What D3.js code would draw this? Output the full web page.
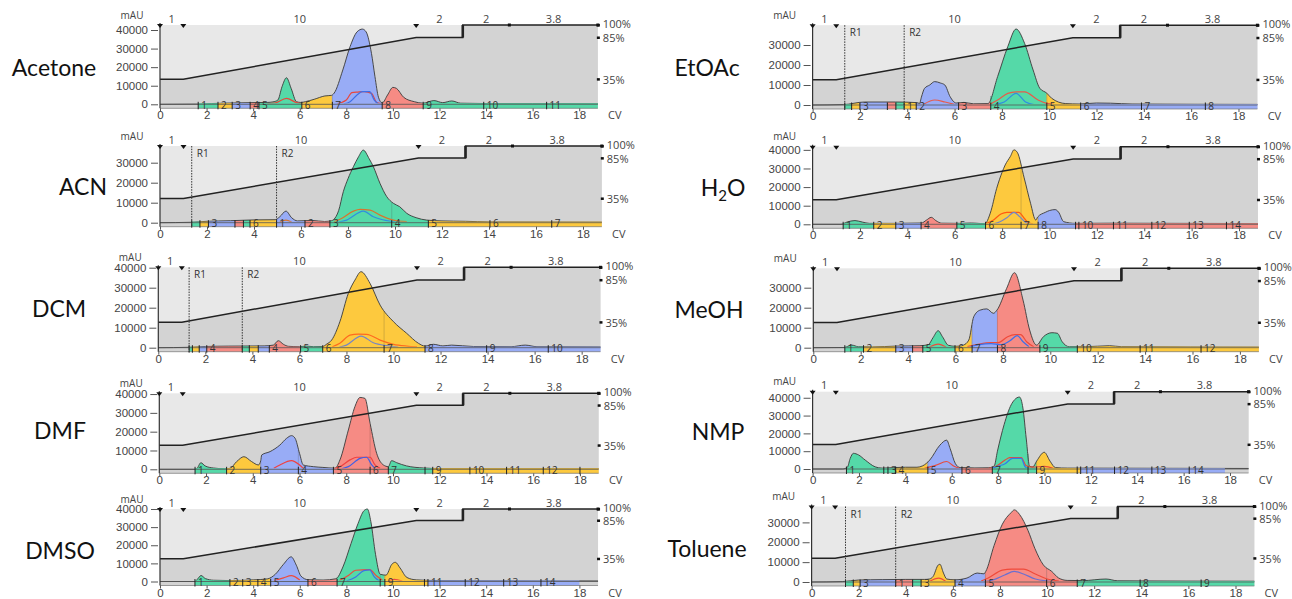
<!DOCTYPE html>
<html lang="en">
<head>
<meta charset="UTF-8">
<title>Flash chromatograms by solvent</title>
<script src="https://d3js.org/d3.v7.min.js"></script>
<style>
  body { margin: 0; background: #fff; }
  svg { display: block; font-family: 'Open Sans', sans-serif; }
  .tick text { font-size: 11.5px; fill: #444; }
  .tick line { stroke: #555; }
  .small { font-size: 11px; fill: #444; }
  .frac { font-size: 10px; fill: #333; }
  .name { font-family: Lato, 'Open Sans', sans-serif; font-size: 23px; fill: #111; }
</style>
</head>
<body>
<svg width="1292" height="599"></svg>
<script>
// ---- shared method data ----
const gradientSteps = [[0, 35], [1, 35], [11, 85], [13, 85], [13, 100], [18.8, 100]];
const segmentLengths = [1, 10, 2, 2, 3.8];
const segmentLabels = ["1", "10", "2", "2", "3.8"];
const percentLabels = [100, 85, 35];
const cvTicks = [0, 2, 4, 6, 8, 10, 12, 14, 16, 18];
const mauTicks = [0, 10000, 20000, 30000, 40000];

const solvents = ["Acetone", "ACN", "DCM", "DMF", "DMSO", "EtOAc", "H₂O", "MeOH", "NMP", "Toluene"];
const yTop = [42700, 38350, 40200, 40400, 40000, 39900, 41700, 39700, 43400, 38000];

// ---- traces: [CV, mAU] ----
const acetoneTrace = [[0,0],[1.6,100],[2.2,400],[3,700],[3.9,900],[4.6,1000],[4.85,1300],[5.06,2300],[5.24,9500],[5.43,14300],[5.63,8600],[5.86,1400],[6.05,1000],[6.24,1400],[6.62,2700],[7.08,4500],[7.36,4800],[7.47,5900],[7.85,18500],[8.16,31000],[8.46,39000],[8.69,40500],[8.85,39000],[9.08,27400],[9.23,14900],[9.38,3800],[9.54,700],[9.77,5000],[10.0,9100],[10.15,8600],[10.46,3800],[10.92,1400],[11.3,600],[11.76,2000],[12.14,900],[12.53,1800],[12.91,600],[14,400],[16,400],[18.8,300]];
const acetoneRed = [[4.6,300],[4.93,600],[5.43,3200],[5.86,900],[6.1,300],null,[7.6,300],[8.0,2300],[8.24,6300],[8.5,6600],[8.77,6800],[9.08,5900],[9.31,900],[9.5,300]];
const acetoneBlue = [[7.9,200],[8.16,1400],[8.46,5000],[8.69,6800],[9.0,6800],[9.2,2300],[9.38,200]];
const acetoneFractions = [[1.64,2.49,"g","1"],[2.49,3.1,"y","2"],[3.1,3.87,"b","3"],[3.87,4.25,"r","4"],[4.25,6.09,"g","5"],[6.09,7.4,"y","6"],[7.4,9.54,"b","7"],[9.54,11.3,"r","8"],[11.3,13.9,"g","9"],[13.9,16.6,"g","10"],[16.6,18.8,"g","11"]];

const acnTrace = [[0,0],[1.3,200],[2,700],[3,1000],[4,1400],[4.9,1500],[5.1,3000],[5.36,5800],[5.6,2500],[5.85,900],[6.5,1100],[7.0,600],[7.3,1000],[7.6,6000],[7.8,15500],[8.0,22000],[8.23,28000],[8.45,33000],[8.65,36300],[8.9,32000],[9.08,28000],[9.36,19700],[9.65,13000],[9.93,9700],[10.2,8000],[10.5,4700],[10.9,2500],[11.35,1300],[12,900],[13,700],[14,400],[18.8,300]];
const acnRed = [[7.4,500],[7.66,1700],[8.23,5800],[8.51,6700],[8.94,6300],[9.36,3800],[9.93,1300],[10.5,500],null,[5.1,300],[5.36,1300],[5.6,300]];
const acnBlue = [[7.6,300],[7.94,1300],[8.65,5800],[9.08,3000],[9.65,1000],[10.07,200]];
const acnFractions = [[1.35,1.7,"g",""],[1.7,2.06,"y",""],[2.06,3.19,"b","3"],[3.19,3.55,"r",""],[3.55,3.83,"g",""],[3.83,4.96,"y","6"],[4.96,6.17,"b","1"],[6.17,7.23,"r","2"],[7.23,9.86,"g","3"],[9.86,11.42,"g","4"],[11.42,14.04,"y","5"],[14.04,16.67,"y","6"],[16.67,18.8,"y","7"]];
const acnRacks = [1.35, 4.96];

const dcmTrace = [[0,0],[1.3,200],[2,600],[3,800],[4.5,900],[4.89,1300],[5.1,3500],[5.32,1700],[5.53,700],[6.0,500],[6.3,800],[6.6,500],[6.99,600],[7.16,1800],[7.37,3800],[7.72,13000],[8.08,27200],[8.36,33800],[8.62,38000],[9.0,32200],[9.43,21300],[10.0,13000],[10.56,7200],[11.06,2200],[11.34,800],[11.7,1700],[12.1,900],[12.47,1300],[13.4,600],[15.0,500],[15.6,1300],[16.1,500],[18.8,400]];
const dcmRed = [[7.4,500],[7.72,2200],[8.15,6300],[8.5,6800],[8.86,6700],[9.43,3800],[10.0,1700],[10.56,800],[11,400]];
const dcmBlue = [[7.7,300],[8.0,1300],[8.62,5800],[9.14,2500],[9.71,1000],[10.2,300]];
const dcmFractions = [[1.31,1.45,"g",""],[1.45,1.74,"y",""],[1.74,2.06,"b",""],[2.06,3.57,"r","4"],[3.57,3.87,"g",""],[3.87,4.25,"y",""],[4.25,4.72,"b",""],[4.72,6.05,"r","4"],[6.05,6.99,"g","5"],[6.99,9.6,"y","6"],[9.6,11.34,"y","7"],[11.34,13.96,"b","8"],[13.96,16.58,"b","9"],[16.58,18.8,"b","10"]];
const dcmRacks = [1.31, 3.57];

const dmfTrace = [[0,0],[1.5,0],[1.6,300],[1.78,3500],[1.96,1800],[2.31,700],[2.8,300],[3.02,500],[3.31,4100],[3.62,6700],[3.95,4100],[4.24,2300],[4.34,4500],[4.38,7600],[4.74,9400],[5.16,12900],[5.45,16500],[5.66,17900],[5.81,16500],[6.0,8500],[6.16,2300],[6.59,1400],[7.0,1000],[7.52,600],[7.73,5000],[8.09,20900],[8.37,33300],[8.59,38200],[8.8,37700],[9.02,24400],[9.3,8500],[9.59,2300],[9.8,1400],[9.94,4600],[10.16,3500],[10.58,1800],[11.3,700],[12,400],[18.8,300]];
const dmfRed = [[4.9,500],[5.16,2300],[5.66,4600],[6.0,2300],[6.16,500],null,[7.5,400],[7.73,1400],[8.16,5000],[8.45,6400],[9.02,6400],[9.23,2300],[9.45,500]];
const dmfBlue = [[7.8,300],[8.09,1400],[8.59,5800],[8.87,6400],[9.09,2300],[9.23,500]];
const dmfFractions = [[1.53,2.88,"g","1"],[2.88,4.34,"y","2"],[4.34,5.95,"b","3"],[5.95,7.45,"b","4"],[7.45,9.02,"r","5"],[9.02,9.8,"r","6"],[9.8,11.37,"g","7"],[11.37,11.7,"g",""],[11.7,13.29,"y","9"],[13.29,14.86,"y","10"],[14.86,16.43,"y","11"],[16.43,18.0,"y","12"],[18.0,18.8,"y",""]];

const dmsoTrace = [[0,0],[1.5,0],[1.62,1500],[1.76,3300],[1.95,1600],[2.3,700],[3,500],[4,900],[4.6,1400],[4.95,4000],[5.3,9500],[5.63,13600],[5.85,9000],[6.05,3000],[6.35,1000],[7.0,800],[7.55,1500],[7.85,8000],[8.2,21000],[8.5,32000],[8.75,39000],[8.9,40000],[9.05,33000],[9.25,15000],[9.45,4000],[9.7,3500],[9.95,9500],[10.1,10600],[10.3,7500],[10.6,2200],[11,900],[12,500],[18.8,300]];
const dmsoRed = [[4.9,500],[5.3,2000],[5.63,3200],[6.0,800],null,[7.7,600],[8.1,3500],[8.4,6200],[9.0,6500],[9.3,3000],[9.55,600],null,[9.8,300],[10.05,1200],[10.4,300]];
const dmsoBlue = [[8.0,300],[8.4,2500],[8.75,6000],[9.0,6400],[9.2,2500],[9.4,400]];
const dmsoFractions = [[1.5,3.0,"g","1"],[3.0,3.55,"y","2"],[3.55,4.2,"y","3"],[4.2,4.75,"y","4"],[4.75,6.35,"b","5"],[6.35,7.6,"r","6"],[7.6,9.45,"g","7"],[9.45,9.65,"g",""],[9.65,11.35,"y","9"],[11.35,11.5,"y",""],[11.5,13.1,"b","11"],[13.1,14.75,"b","12"],[14.75,16.35,"b","13"],[16.35,18.0,"b","14"]];

const etoacTrace = [[0,0],[1.3,200],[2.2,1500],[3.5,1500],[4.4,1200],[4.52,800],[4.6,4000],[4.73,8300],[4.95,10000],[5.16,11700],[5.4,11000],[5.59,10000],[5.81,4200],[6.07,1000],[6.4,1300],[6.8,600],[7.41,700],[7.82,14200],[8.25,29200],[8.6,38000],[8.96,30800],[9.32,17500],[9.6,8400],[9.9,5900],[10.1,3400],[10.7,700],[11.26,500],[12,1000],[12.6,900],[13.5,500],[18.8,300]];
const etoacRed = [[4.7,400],[5.16,2500],[5.6,1500],[6.0,300],null,[7.5,400],[7.82,2500],[8.25,5800],[8.6,6600],[8.96,6600],[9.53,2500],[9.9,800],[10.2,300]];
const etoacBlue = [[7.7,200],[8.1,1500],[8.6,5800],[9.0,1500],[9.4,100]];
const etoacFractions = [[1.36,1.65,"g",""],[1.65,2.0,"y",""],[2.0,3.16,"b","3"],[3.16,3.52,"r",""],[3.52,3.87,"g",""],[3.87,4.38,"y","1"],[4.38,6.17,"b","2"],[6.17,7.53,"r","3"],[7.53,9.9,"g","4"],[9.9,11.33,"y","5"],[11.33,13.9,"b","6"],[13.9,16.6,"b","7"],[16.6,18.8,"b","8"]];
const etoacRacks = [1.36, 3.87];

const h2oTrace = [[0,0],[1.2,0],[1.45,1200],[1.79,2000],[2.1,1200],[2.4,500],[3.5,500],[4.6,700],[4.8,2200],[5.01,3750],[5.2,2000],[5.45,600],[6.2,500],[6.7,700],[7.1,400],[7.27,300],[7.5,6000],[7.77,19300],[8.0,28000],[8.13,31900],[8.35,36500],[8.5,40000],[8.64,38700],[8.93,25000],[9.2,11300],[9.42,2300],[9.5,3900],[9.82,6400],[10.0,7400],[10.24,7900],[10.38,6600],[10.6,1400],[11.1,500],[12.6,600],[18.8,400]];
const h2oRed = [[7.3,300],[7.6,2000],[7.95,5500],[8.2,6400],[8.7,6400],[8.95,3000],[9.1,1000],[9.3,300]];
const h2oBlue = [[7.5,200],[7.8,800],[8.2,3500],[8.5,6400],[8.75,4000],[9.0,1000],[9.2,200]];
const h2oFractions = [[1.29,2.58,"g","1"],[2.58,3.51,"y","2"],[3.51,4.58,"b","3"],[4.58,6.09,"r","4"],[6.09,7.3,"g","5"],[7.3,8.8,"y","6"],[8.8,9.52,"y","7"],[9.52,11.1,"b","8"],[11.1,11.24,"r",""],[11.24,12.7,"r","10"],[12.7,14.32,"r","11"],[14.32,15.9,"r","12"],[15.9,17.47,"r","13"],[17.47,18.8,"r","14"]];

const meohTrace = [[0,0],[1.3,100],[1.62,1300],[1.9,500],[2.5,400],[3.5,800],[4.5,1000],[4.85,1500],[5.05,5000],[5.27,8500],[5.45,5500],[5.7,1200],[6.0,700],[6.2,800],[6.34,1300],[6.56,3800],[6.77,15500],[7.04,18800],[7.32,19400],[7.6,17200],[7.75,18800],[8.16,29700],[8.49,37500],[8.85,23800],[9.13,8800],[9.42,1300],[9.71,5500],[10.07,7500],[10.3,7200],[10.5,3000],[10.8,500],[11.5,500],[12.5,1000],[13,500],[18.8,300]];
const meohRed = [[4.9,300],[5.27,1800],[5.6,300],null,[6.5,500],[6.9,1500],[7.5,2500],[7.8,2500],[8.2,5500],[8.5,6500],[8.75,6500],[9.0,3000],[9.3,500]];
const meohBlue = [[6.6,300],[7.0,1500],[7.5,2000],[7.9,1500],[8.3,3500],[8.6,6000],[8.85,3000],[9.1,500]];
const meohFractions = [[1.33,2.12,"g","1"],[2.12,3.48,"y","2"],[3.48,4.19,"b","3"],[4.19,4.62,"r",""],[4.62,5.98,"g","5"],[5.98,6.7,"y","6"],[6.7,7.77,"b","7"],[7.77,9.56,"r","8"],[9.56,11.14,"g","9"],[11.14,13.79,"y","10"],[13.79,16.36,"y","11"],[16.36,18.8,"y","12"]];

const nmpTrace = [[0,0],[1.3,0],[1.5,1000],[1.62,5900],[1.76,8800],[1.98,7900],[2.27,5000],[2.7,1200],[3.0,500],[3.5,800],[4.0,1000],[4.5,1000],[4.75,1800],[5.05,5000],[5.49,13400],[5.78,16200],[5.93,11500],[6.15,3200],[6.36,800],[7.0,600],[7.6,700],[7.83,1700],[7.97,10000],[8.26,25000],[8.56,36000],[8.71,38900],[8.92,40400],[9.07,34200],[9.21,17400],[9.36,1500],[9.5,1200],[9.66,4400],[9.99,9400],[10.24,4400],[10.47,800],[11,500],[18.8,300]];
const nmpRed = [[4.8,300],[5.3,2000],[5.78,4200],[6.1,1500],[6.35,300],null,[7.6,300],[7.83,1000],[8.3,5000],[8.5,6400],[9.0,6400],[9.2,2000],[9.5,1000],[9.99,1500],[10.4,300]];
const nmpBlue = [[7.7,200],[7.97,1500],[8.3,3000],[8.62,6000],[9.0,6000],[9.15,1500],[9.3,100]];
const nmpFractions = [[1.46,3.07,"g","1"],[3.07,3.25,"g",""],[3.25,3.58,"g","3"],[3.58,4.97,"y","4"],[4.97,6.44,"b","5"],[6.44,7.75,"r","6"],[7.75,9.29,"g","7"],[9.29,9.66,"g",""],[9.66,11.41,"y","9"],[11.41,11.56,"y",""],[11.56,13.02,"b","11"],[13.02,14.63,"b","12"],[14.63,16.24,"b","13"],[16.24,17.78,"b","14"]];

const tolueneTrace = [[0,0],[1.3,200],[2.0,1000],[3.0,1200],[4.0,1300],[4.8,1300],[5.0,1500],[5.16,2800],[5.38,8600],[5.45,8900],[5.6,4500],[5.74,1500],[6.09,1100],[6.6,2000],[7.03,4500],[7.32,4100],[7.39,5200],[7.75,18400],[8.1,29100],[8.47,34900],[8.61,36300],[8.83,34000],[9.19,25900],[9.48,16900],[9.84,8600],[10.2,5300],[10.49,2000],[10.85,800],[11.5,700],[12.5,1500],[13,600],[18.8,400]];
const tolueneRed = [[5.0,300],[5.4,2000],[5.7,300],null,[7.2,500],[7.5,2000],[8.1,6000],[8.5,6500],[9.0,6500],[9.5,4000],[10.0,1500],[10.5,500]];
const tolueneBlue = [[7.4,300],[7.7,1000],[8.2,3500],[8.6,5300],[9.0,4000],[9.5,1500],[10.0,500],[10.3,200]];
const tolueneFractions = [[1.44,1.77,"g",""],[1.77,2.06,"y",""],[2.06,3.57,"b","3"],[3.57,4.29,"r","1"],[4.29,4.65,"g",""],[4.65,6.09,"y","3"],[6.09,7.38,"b","4"],[7.38,9.98,"r","5"],[9.98,11.28,"r","6"],[11.28,13.95,"g","7"],[13.95,16.54,"g","8"],[16.54,18.8,"g","9"]];
const tolueneRacks = [1.44, 3.57];

const traces = [acetoneTrace, acnTrace, dcmTrace, dmfTrace, dmsoTrace, etoacTrace, h2oTrace, meohTrace, nmpTrace, tolueneTrace];
const redLines = [acetoneRed, acnRed, dcmRed, dmfRed, dmsoRed, etoacRed, h2oRed, meohRed, nmpRed, tolueneRed];
const blueLines = [acetoneBlue, acnBlue, dcmBlue, dmfBlue, dmsoBlue, etoacBlue, h2oBlue, meohBlue, nmpBlue, tolueneBlue];
const fractions = [acetoneFractions, acnFractions, dcmFractions, dmfFractions, dmsoFractions, etoacFractions, h2oFractions, meohFractions, nmpFractions, tolueneFractions];
const racks = [[], acnRacks, dcmRacks, [], [], etoacRacks, [], [], [], tolueneRacks];

// ---- layout (pixels) ----
const layout = [
  {x0: 160,   ppc: 23.29, T: 25,    Z: 104.3, nx: 54,  ny: 68,  red: "#e8473d", blue: "#3d6fe8"},
  {x0: 160,   ppc: 23.5,  T: 146,   Z: 222.7, nx: 83,  ny: 187, red: "#d8742e", blue: "#2f8ee0"},
  {x0: 158.3, ppc: 23.52, T: 267.3, Z: 347.7, nx: 59,  ny: 309, red: "#ff6a1f", blue: "#7585c8"},
  {x0: 159.3, ppc: 23.37, T: 393.3, Z: 469.3, nx: 60,  ny: 431, red: "#f04040", blue: "#3d5fe8"},
  {x0: 160,   ppc: 23.3,  T: 509,   Z: 581.5, nx: 60,  ny: 551, red: "#f04a3a", blue: "#3d6fe8"},
  {x0: 812.6, ppc: 23.66, T: 25.2,  Z: 105,   nx: 707, ny: 68,  red: "#e85a4a", blue: "#2f8ee0"},
  {x0: 812.6, ppc: 23.69, T: 146.7, Z: 224.3, nx: 723, ny: 188, red: "#ff5a10", blue: "#7585c8"},
  {x0: 813.3, ppc: 23.7,  T: 268.3, Z: 347.7, nx: 709, ny: 310, red: "#f04a3a", blue: "#3d6fe8"},
  {x0: 812.6, ppc: 23.19, T: 391.7, Z: 469,   nx: 718, ny: 432, red: "#e84a3a", blue: "#2f7ee8"},
  {x0: 811.6, ppc: 23.55, T: 506.5, Z: 582,   nx: 707, ny: 549, red: "#f04a3a", blue: "#6a6fd0"}
];

const fracColor = {g: "#55d9a8", y: "#fdc93e", b: "#98acf6", r: "#f68b84"};
const svg = d3.select("svg");
const cvEnd = 18.8;

function valueAt(tr, cv) {
  for (let i = 1; i < tr.length; i++) {
    if (tr[i][0] >= cv) {
      const a = tr[i - 1], b = tr[i];
      return a[1] + (b[1] - a[1]) * (cv - a[0]) / (b[0] - a[0]);
    }
  }
  return 0;
}

function drawPanel(i) {
  const L = layout[i];
  const B = L.Z + 4;
  const x = d3.scaleLinear().domain([0, 18]).range([L.x0, L.x0 + 18 * L.ppc]);
  const y = d3.scaleLinear().domain([0, yTop[i]]).range([L.Z, L.T]);
  const pct = d3.scaleLinear().domain([0, 100]).range([B, L.T]);
  const g = svg.append("g");
  const xR = x(cvEnd);

  // background + gradient shading
  g.append("rect").attr("x", x(0)).attr("y", L.T).attr("width", xR - x(0)).attr("height", B - L.T).attr("fill", "#e8e8e8");
  g.append("path").datum(gradientSteps)
    .attr("d", d3.area().x(d => x(d[0])).y0(B).y1(d => pct(d[1])))
    .attr("fill", "#d3d3d3");

  // peak fills, coloured by fraction
  const area = d3.area().curve(d3.curveMonotoneX).x(d => x(d[0])).y0(y(0)).y1(d => y(d[1]));
  fractions[i].forEach((f, k) => {
    const id = `clip-${i}-${k}`;
    g.append("clipPath").attr("id", id).append("rect")
      .attr("x", x(f[0])).attr("y", L.T - 5).attr("width", x(f[1]) - x(f[0])).attr("height", L.Z - L.T + 6);
    g.append("path").datum(traces[i]).attr("d", area)
      .attr("fill", fracColor[f[2]]).attr("clip-path", `url(#${id})`);
    if (k > 0) {
      const v = valueAt(traces[i], f[0]) * 0.96;
      g.append("line").attr("x1", x(f[0])).attr("x2", x(f[0])).attr("y1", y(0)).attr("y2", y(v))
        .attr("stroke", d3.color(fracColor[f[2]]).darker(0.6)).attr("stroke-width", 0.8);
    }
  });

  const line = d3.line().defined(d => d != null).curve(d3.curveMonotoneX).x(d => x(d[0])).y(d => y(d[1]));
  g.append("path").datum(traces[i]).attr("d", line).attr("fill", "none").attr("stroke", "#3a3a3a").attr("stroke-width", 0.9);
  g.append("path").datum(redLines[i]).attr("d", line).attr("fill", "none").attr("stroke", L.red).attr("stroke-width", 1.2);
  g.append("path").datum(blueLines[i]).attr("d", line).attr("fill", "none").attr("stroke", L.blue).attr("stroke-width", 1.2);

  // fraction bar
  fractions[i].forEach(f => {
    g.append("rect").attr("x", x(f[0])).attr("y", L.Z - 1).attr("width", x(f[1]) - x(f[0])).attr("height", B - L.Z + 1)
      .attr("fill", fracColor[f[2]]);
  });
  g.append("line").attr("x1", x(0)).attr("x2", xR).attr("y1", L.Z).attr("y2", L.Z).attr("stroke", "#555").attr("stroke-width", 0.8);
  g.append("line").attr("x1", x(0)).attr("x2", xR).attr("y1", B).attr("y2", B).attr("stroke", "#777").attr("stroke-width", 0.7);
  fractions[i].forEach(f => {
    g.append("line").attr("x1", x(f[0])).attr("x2", x(f[0])).attr("y1", L.Z - 2.5).attr("y2", B + 1)
      .attr("stroke", "#222").attr("stroke-width", 1);
    if (f[3]) g.append("text").attr("class", "frac").attr("x", x(f[0]) + 3).attr("y", L.Z + 4.5).text(f[3]);
  });

  // gradient line
  g.append("path").datum(gradientSteps)
    .attr("d", d3.line().x(d => x(d[0])).y(d => pct(d[1])))
    .attr("fill", "none").attr("stroke", "#222").attr("stroke-width", 1.5);
  g.append("line").attr("x1", x(13)).attr("x2", x(13)).attr("y1", pct(85)).attr("y2", pct(100))
    .attr("stroke", "#222").attr("stroke-width", 2.6);

  // rack markers
  racks[i].forEach((r, k) => {
    g.append("line").attr("x1", x(r)).attr("x2", x(r)).attr("y1", L.T).attr("y2", B)
      .attr("stroke", "#333").attr("stroke-width", 1).attr("stroke-dasharray", "1.5,1.2");
    g.append("text").attr("class", "frac").attr("x", x(r) + 5).attr("y", L.T + 11).text("R" + (k + 1));
  });

  // axes
  const ya = d3.axisLeft(y).tickValues(mauTicks.filter(v => v <= yTop[i])).tickSize(7).tickPadding(3).tickFormat(d3.format("d"));
  g.append("g").attr("transform", `translate(${x(0) - 2},0)`).call(ya).call(s => s.select(".domain").remove());
  const xa = d3.axisBottom(x).tickValues(cvTicks).tickSize(3).tickPadding(0);
  g.append("g").attr("transform", `translate(0,${B})`).call(xa).call(s => s.select(".domain").remove());
  g.append("line").attr("x1", x(0)).attr("x2", x(0)).attr("y1", L.T - 2).attr("y2", B).attr("stroke", "#333").attr("stroke-width", 1.2);
  g.append("text").attr("class", "small").attr("x", xR + 17).attr("y", B + 11).attr("text-anchor", "middle").text("CV");
  g.append("text").attr("class", "small").attr("x", x(0) - 28).attr("y", L.T - 6.5).attr("text-anchor", "middle").style("font-size", "10px").text("mAU");

  // method segments along the top
  let c = 0;
  const marks = [0];
  segmentLengths.forEach((len, k) => {
    g.append("text").attr("class", "small").attr("x", x(c + len / 2)).attr("y", L.T - 2.5).attr("text-anchor", "middle").text(segmentLabels[k]);
    c += len;
    marks.push(c);
  });
  marks.forEach((m, k) => {
    if (k < 3) {
      const px = x(m);
      g.append("path").attr("d", `M${px - 3},${L.T - 1}L${px + 3},${L.T - 1}L${px},${L.T + 3}Z`).attr("fill", "#111");
    } else if (k > 3) {
      g.append("rect").attr("x", x(m) - 1.5).attr("y", L.T - 1.5).attr("width", 3).attr("height", 3).attr("fill", "#111");
    }
  });

  // % labels on the right
  percentLabels.forEach(p => {
    g.append("rect").attr("x", xR - 1).attr("y", pct(p) - 1).attr("width", 3).attr("height", 2.5).attr("fill", "#111");
    g.append("text").attr("class", "small").attr("x", xR + 5).attr("y", pct(p) + (p === 100 ? 3 : 4.5)).text(p + "%");
  });

  // solvent name
  const t = g.append("text").attr("class", "name").attr("x", L.nx).attr("y", L.ny + 8).attr("text-anchor", "middle");
  const parts = solvents[i].split("₂");
  parts.forEach((s, k) => {
    if (k > 0) t.append("tspan").attr("dy", 5).style("font-size", "15px").text("2");
    t.append("tspan").attr("dy", k > 0 ? -5 : 0).text(s);
  });
}

solvents.forEach((s, i) => drawPanel(i));
</script>
</body>
</html>
